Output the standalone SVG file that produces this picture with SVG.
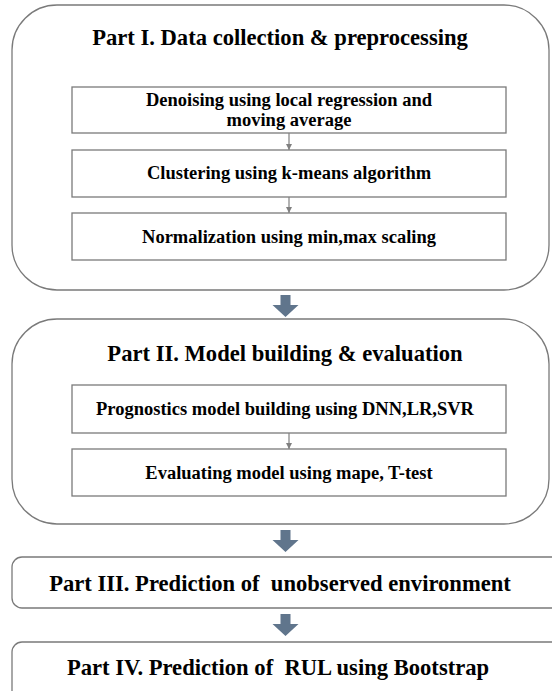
<svg xmlns="http://www.w3.org/2000/svg" width="552" height="691" viewBox="0 0 552 691">
  <style>
    .panel { fill: #ffffff; stroke: #7a7a7a; stroke-width: 1.3; }
    .step { fill: #ffffff; stroke: #7a7a7a; stroke-width: 1.3; }
    .title { font-family: "Liberation Serif", "Times New Roman", serif; font-weight: bold; font-size: 22.6px; fill: #000000; text-anchor: middle; }
    .label { font-family: "Liberation Serif", "Times New Roman", serif; font-weight: bold; font-size: 18.5px; fill: #000000; text-anchor: middle; }
    .link { stroke: #808080; stroke-width: 1.2; fill: none; marker-end: url(#tri); }
    .flow { fill: #60758c; }
  </style>
  <defs>
    <marker id="tri" viewBox="0 0 10 10" refX="10" refY="5" markerWidth="6" markerHeight="6" markerUnits="userSpaceOnUse" orient="auto">
      <path d="M0,0 L10,5 L0,10 z" fill="#808080"/>
    </marker>
    <path id="bigArrow" d="M-5,0 H5 V10 H13 L0,22 L-13,10 H-5 Z"/>
  </defs>
  <rect width="552" height="691" fill="#ffffff"/>

  <!-- Part I panel -->
  <g id="part1">
    <rect class="panel" x="12" y="5" width="537" height="285" rx="45" ry="45"/>
    <text class="title" x="280" y="45">Part I. Data collection &amp; preprocessing</text>
  </g>
  <g id="denoising">
    <rect class="step" x="72" y="87" width="434" height="46"/>
    <text class="label" x="289" y="106">Denoising using local regression and</text>
    <text class="label" x="289" y="126">moving average</text>
  </g>
  <g id="clustering">
    <rect class="step" x="72" y="150" width="434" height="47"/>
    <text class="label" x="289" y="179">Clustering using k-means algorithm</text>
  </g>
  <g id="normalization">
    <rect class="step" x="72" y="213" width="434" height="47"/>
    <text class="label" x="289" y="243">Normalization using min,max scaling</text>
  </g>

  <!-- Part II panel -->
  <g id="part2">
    <rect class="panel" x="12" y="319" width="537" height="205" rx="45" ry="45"/>
    <text class="title" x="285" y="361">Part II. Model building &amp; evaluation</text>
  </g>
  <g id="modelBuilding">
    <rect class="step" x="72" y="385" width="434" height="48"/>
    <text class="label" x="285" y="415">Prognostics model building using DNN,LR,SVR</text>
  </g>
  <g id="evaluation">
    <rect class="step" x="72" y="449" width="434" height="47"/>
    <text class="label" x="289" y="479">Evaluating model using mape, T-test</text>
  </g>

  <!-- Part III and IV -->
  <g id="part3">
    <rect class="panel" x="12" y="557" width="560" height="51" rx="10" ry="10"/>
    <text class="title" x="280" y="591" xml:space="preserve">Part III. Prediction of  unobserved environment</text>
  </g>
  <g id="part4">
    <rect class="panel" x="12" y="642" width="560" height="70" rx="10" ry="10"/>
    <text class="title" x="278" y="675" xml:space="preserve">Part IV. Prediction of  RUL using Bootstrap</text>
  </g>

  <!-- connectors -->
  <g id="connectors">
    <line class="link" x1="289" y1="133" x2="289" y2="150"/>
    <line class="link" x1="289" y1="197" x2="289" y2="213"/>
    <line class="link" x1="289" y1="433" x2="289" y2="449"/>
    <use href="#bigArrow" class="flow" x="285.5" y="295"/>
    <use href="#bigArrow" class="flow" x="285.5" y="530"/>
    <use href="#bigArrow" class="flow" x="285.5" y="614"/>
  </g>
</svg>
